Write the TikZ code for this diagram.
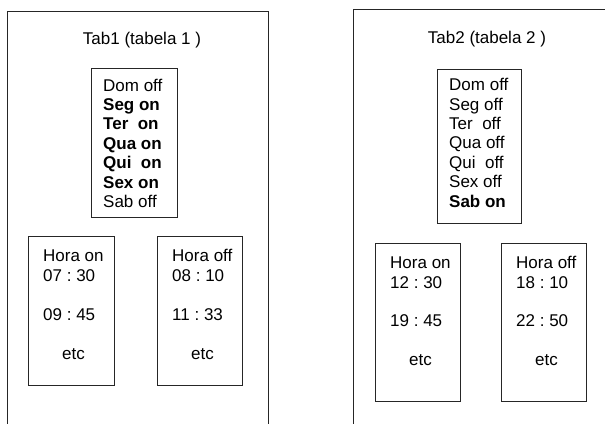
\documentclass[tikz,border=0pt]{standalone}
\usepackage{fontspec}
\setmainfont{Liberation Sans}
\frenchspacing

\begin{document}
\begin{tikzpicture}[x=1pt,y=-1pt,
  caixa/.style={draw=black!85,line width=1pt},
  texto/.style={anchor=base west,align=left,font=\fontsize{17}{19.4}\selectfont},
  titulo/.style={anchor=base,font=\fontsize{17}{19.4}\selectfont}]
\tikzstyle{every node}+=[inner sep=0pt]
\useasboundingbox (0,0) rectangle (605,423);
% tabela 1 (base = ultima linha)
\draw [caixa] (7,430) -- (7,11) -- (268,11) -- (268,430);
\draw (142,44.5) node [titulo] (tit1) {Tab1 (tabela 1 )};
\draw [caixa] (91,68) rectangle (177,217);
\draw (103,207.4) node [texto] (dias1) {Dom off\\\textbf{Seg on}\\\textbf{Ter~ on}\\\textbf{Qua on}\\\textbf{Qui~ on}\\\textbf{Sex on}\\Sab off};
\draw [caixa] (28,236) rectangle (114,385);
\draw (43,359) node [texto] (on1) {Hora on\\07 : 30\\[19.5pt]09 : 45\\[19.5pt]\hspace{19pt}etc};
\draw [caixa] (157,236) rectangle (242,385);
\draw (172,359) node [texto] (off1) {Hora off\\08 : 10\\[19.5pt]11 : 33\\[19.5pt]\hspace{19pt}etc};
% tabela 2
\draw [caixa] (353,430) -- (353,9.5) -- (610,9.5);
\draw (487,43) node [titulo] (tit2) {Tab2 (tabela 2 )};
\draw [caixa] (437,69) rectangle (521,223);
\draw (449,207) node [texto] (dias2) {Dom off\\Seg off\\Ter~ off\\Qua off\\Qui~ off\\Sex off\\\textbf{Sab on}};
\draw [caixa] (375,243) rectangle (460,401);
\draw (390,365) node [texto] (on2) {Hora on\\12 : 30\\[19pt]19 : 45\\[19pt]\hspace{19pt}etc};
\draw [caixa] (501,243) rectangle (586,401);
\draw (516,365) node [texto] (off2) {Hora off\\18 : 10\\[19pt]22 : 50\\[19pt]\hspace{19pt}etc};
\end{tikzpicture}
\end{document}
